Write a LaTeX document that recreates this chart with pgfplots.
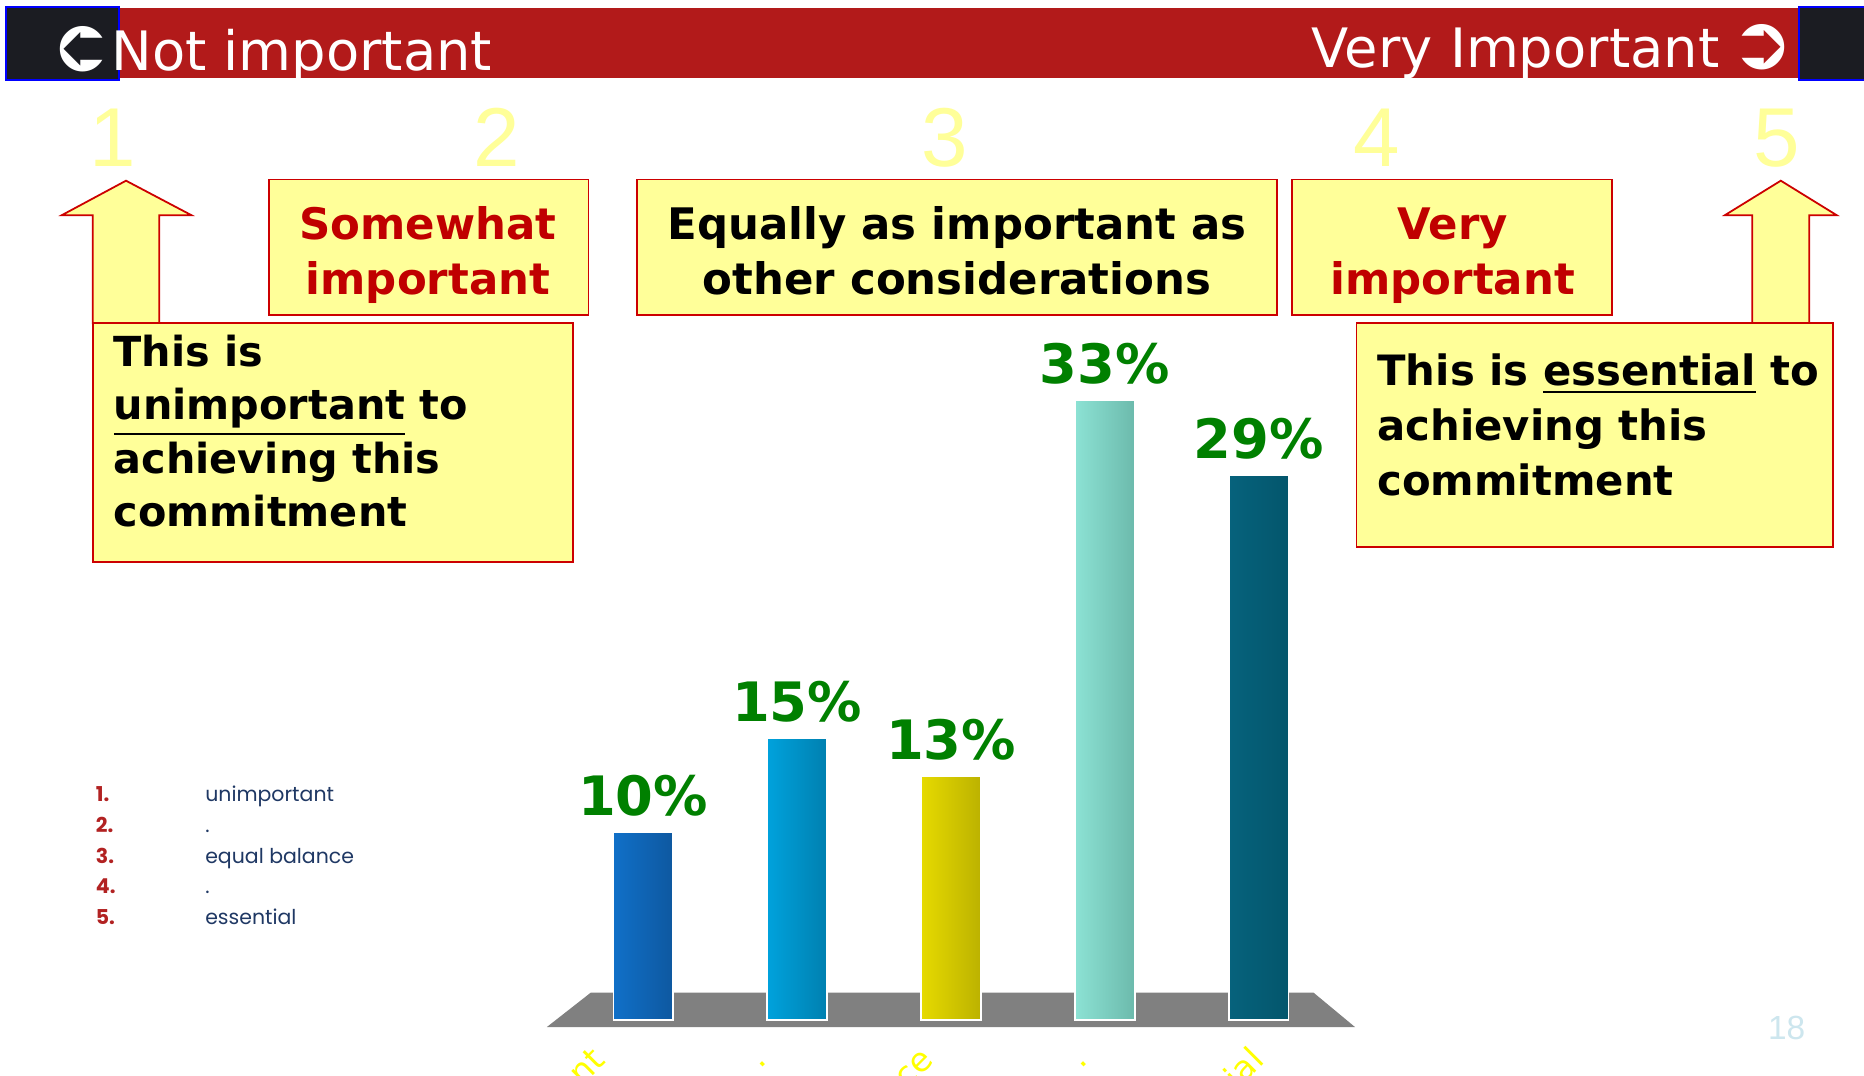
\documentclass[border=0pt]{standalone}
\usepackage{pgfplots}
\pgfplotsset{compat=1.18}
\usepackage{fontspec}
\usepackage{graphicx}
\setmainfont{DejaVu Sans}
\newfontfamily\digitfont{Liberation Sans}
\newfontfamily\listfont{Poppins}

\definecolor{bannerred}{RGB}{178,26,26}
\definecolor{darkbox}{RGB}{27,28,34}
\definecolor{noteyellow}{RGB}{255,255,153}
\definecolor{noteborder}{RGB}{204,0,0}
\definecolor{notered}{RGB}{192,0,0}
\definecolor{pctgreen}{RGB}{0,128,0}
\definecolor{listred}{RGB}{178,34,34}
\definecolor{listblue}{RGB}{31,56,100}
\definecolor{floorgray}{RGB}{128,128,128}
\definecolor{pagenum}{RGB}{205,230,238}
\definecolor{tickyellow}{RGB}{255,255,0}
% bar colours, left / right side of each cylinder
\definecolor{b1l}{RGB}{16,112,200}\definecolor{b1r}{RGB}{14,88,160}
\definecolor{b2l}{RGB}{0,162,220}\definecolor{b2r}{RGB}{0,128,176}
\definecolor{b3l}{RGB}{230,218,0}\definecolor{b3r}{RGB}{188,178,0}
\definecolor{b4l}{RGB}{140,226,212}\definecolor{b4r}{RGB}{108,186,172}
\definecolor{b5l}{RGB}{6,98,124}\definecolor{b5r}{RGB}{4,86,108}

\begin{document}
\begin{tikzpicture}[x=0.1mm,y=-0.1mm]
\path[use as bounding box,clip] (0,0) rectangle (1568,905);
\fill[white] (0,0) rectangle (1568,905);

% banner
\fill[bannerred] (100,7) rectangle (1513,66);
\draw[blue,fill=darkbox,line width=0.15mm] (5,6) rectangle (100,67);
\draw[blue,fill=darkbox,line width=0.15mm] (1513,6) rectangle (1580,67);
\node[anchor=base west,inner sep=0,text=white,font=\fontsize{13pt}{16pt}\selectfont] at (93,59) {Not important};
\node[anchor=base east,inner sep=0,text=white,font=\fontsize{13pt}{16pt}\selectfont] at (1447,57) {Very Important};
\node[inner sep=0,text=white,font=\fontsize{18pt}{20pt}\selectfont] at (70,41) {\reflectbox{➲}};
\node[inner sep=0,text=white,font=\fontsize{18pt}{20pt}\selectfont] at (1482,40) {➲};

% scale digits
\foreach \d/\x in {1/95,2/418,3/795,4/1158,5/1495}
  \node[anchor=base,inner sep=0,text=noteyellow,font=\digitfont\fontsize{20pt}{24pt}\selectfont] at (\x,140) {\d};

% arrows
\draw[noteborder,fill=noteyellow,line width=0.15mm] (106,152) -- (161,181) -- (134,181) -- (134,272) -- (78,272) -- (78,181) -- (52,181) -- cycle;
\draw[noteborder,fill=noteyellow,line width=0.15mm] (1498,152) -- (1545,181) -- (1522,181) -- (1522,272) -- (1474,272) -- (1474,181) -- (1451,181) -- cycle;

% note boxes
\tikzset{note/.style={noteborder,fill=noteyellow,line width=0.15mm},
  notetext/.style={inner sep=0,font=\bfseries\fontsize{10.4pt}{13.1pt}\selectfont}}
\draw[note] (226,151) rectangle (495,265);
\draw[note] (536,151) rectangle (1074,265);
\draw[note] (1087,151) rectangle (1356,265);
\draw[note] (78,272) rectangle (482,473);
\draw[note] (1141,272) rectangle (1542,460);
\node[notetext,anchor=north,align=center,text=notered] at (360,173) {Somewhat\\important};
\node[notetext,anchor=north,align=center] at (805,173) {Equally as important as\\other considerations};
\node[notetext,anchor=north,align=center,text=notered] at (1222,174) {Very\\important};
\node[notetext,anchor=north west,align=left,font=\bfseries\fontsize{9.9pt}{12.8pt}\selectfont] at (95,281)
  {This is\\\underline{unimportant} to\\achieving this\\commitment};
\node[notetext,anchor=north west,align=left,font=\bfseries\fontsize{10pt}{13.1pt}\selectfont] at (1158,297)
  {This is \underline{essential} to\\achieving this\\commitment};

% scale list
\foreach \n/\t/\y in {1/unimportant/674,2/./700,3/equal balance/726,4/./752,5/essential/778}{
  \node[anchor=base west,inner sep=0,text=listred,font=\listfont\bfseries\fontsize{4.9pt}{6pt}\selectfont] at (80,\y) {\n.};
  \node[anchor=base west,inner sep=0,text=listblue,font=\listfont\fontsize{4.9pt}{6pt}\selectfont] at (172,\y) {\t};
}

\node[inner sep=0,text=pagenum,font=\digitfont\fontsize{8pt}{9pt}\selectfont] at (1503,865) {18};

\begin{scope}[x=1cm,y=1cm]
\begin{axis}[
    at={(47.625mm,-88.7mm)}, anchor=south west,
    scale only axis, width=64.75mm, height=66.1mm,
    xmin=0.5, xmax=5.5, ymin=-1.835, ymax=40,
    axis line style={draw=none}, major tick length=0pt, ytick=\empty,
    xtick={0.72,1.77,2.85,3.85,5.0},
    xticklabels={unimportant,.,equal balance,.,essential},
    xticklabel style={rotate=45, anchor=east, inner sep=0pt, text=tickyellow,
        font=\fontsize{8pt}{9pt}\selectfont, text height=0.75em, text depth=0.25em},
    clip=false,
    /pgf/number format/assume math mode=true,
]
% floor
\addplot[fill=floorgray, draw=none] coordinates {(0.374,-0.38) (5.625,-0.38) (5.355,1.456) (0.660,1.456)} -- cycle;
% bars
\addplot[ybar, bar shift=0pt, bar width=0.386, draw=white, line width=0.15mm, left color=b1l, right color=b1r] coordinates {(1,10)};
\addplot[ybar, bar shift=0pt, bar width=0.386, draw=white, line width=0.15mm, left color=b2l, right color=b2r] coordinates {(2,15)};
\addplot[ybar, bar shift=0pt, bar width=0.386, draw=white, line width=0.15mm, left color=b3l, right color=b3r] coordinates {(3,13)};
\addplot[ybar, bar shift=0pt, bar width=0.386, draw=white, line width=0.15mm, left color=b4l, right color=b4r] coordinates {(4,33)};
\addplot[ybar, bar shift=0pt, bar width=0.386, draw=white, line width=0.15mm, left color=b5l, right color=b5r] coordinates {(5,29)};
% value labels
\addplot[draw=none, mark=none,
    nodes near coords={\pgfmathprintnumber{\pgfplotspointmeta}\%},
    every node near coord/.append style={anchor=base, yshift=1.4mm, inner sep=0pt,
        text=pctgreen, font=\bfseries\fontsize{13pt}{14pt}\selectfont}]
    coordinates {(1,10) (2,15) (3,13) (4,33) (5,29)};
\end{axis}
\end{scope}
\end{tikzpicture}
\end{document}
